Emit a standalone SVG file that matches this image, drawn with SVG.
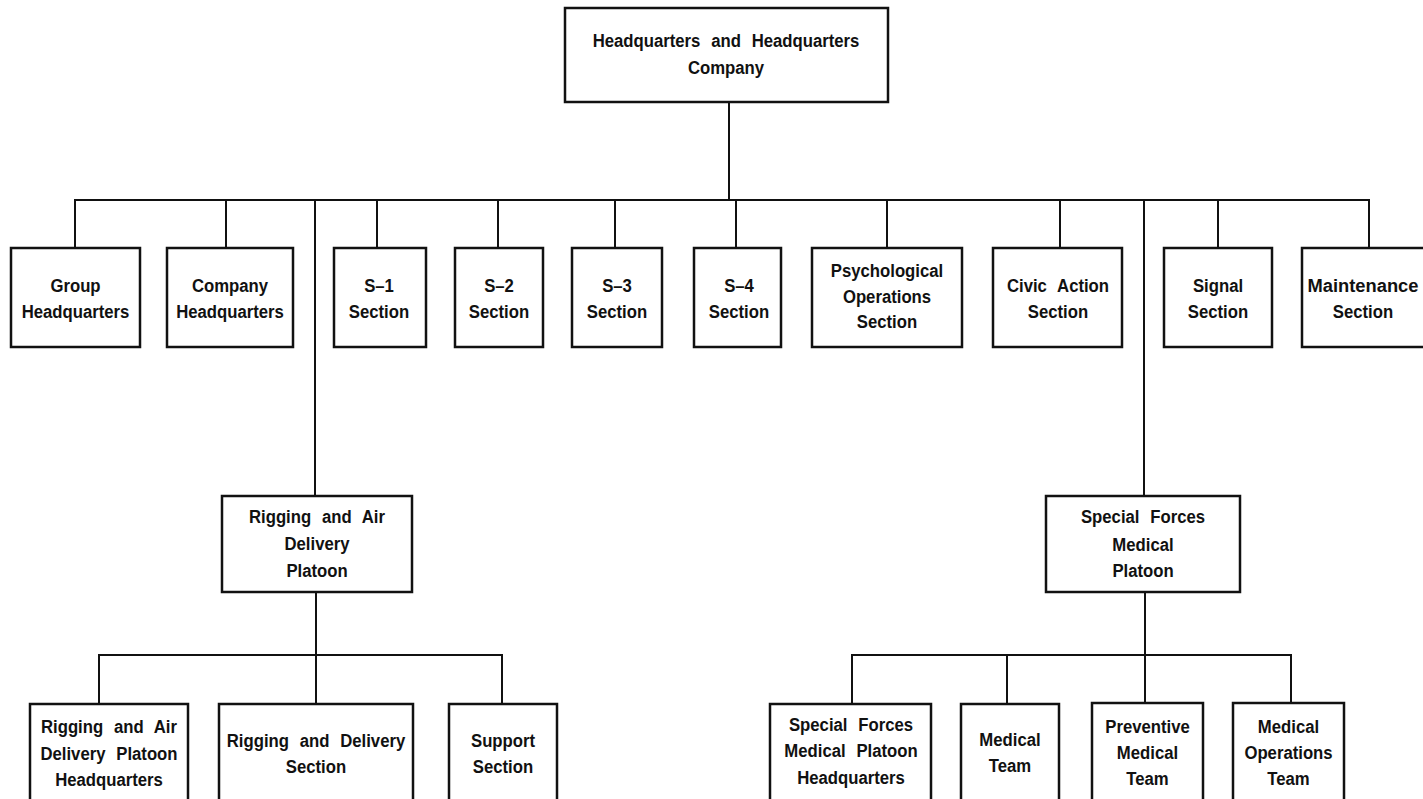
<svg xmlns="http://www.w3.org/2000/svg" width="1423" height="799" viewBox="0 0 1423 799">
  <style>
    .box { fill: #ffffff; stroke: #111111; stroke-width: 2.5; }
    .wire { fill: none; stroke: #111111; stroke-width: 2; stroke-linecap: square; }
    .lbl { font-family: "Liberation Sans", Arial, sans-serif; font-weight: bold; font-size: 19px; fill: #111111; text-anchor: middle; word-spacing: 7px; }
  </style>
  <rect width="1423" height="799" fill="#ffffff"/>

  <!-- connectors -->
  <g id="connectors" class="wire">
    <path d="M729 102 V200"/>
    <path d="M75 200 H1369"/>
    <path d="M75 200 V248 M226 200 V248 M377 200 V248 M498 200 V248 M615 200 V248 M736 200 V248 M887 200 V248 M1060 200 V248 M1218 200 V248 M1369 200 V248"/>
    <path d="M315 200 V496"/>
    <path d="M1144 200 V496"/>
    <path d="M316 592 V655 M99 655 H502 M99 655 V704 M316 655 V704 M502 655 V704"/>
    <path d="M1145 592 V655 M852 655 H1291 M852 655 V703 M1007 655 V703 M1145 655 V703 M1291 655 V703"/>
  </g>

  <!-- top -->
  <g id="hhc">
    <rect class="box" x="565" y="8" width="323" height="94"/>
    <text class="lbl" transform="matrix(0.88 0 0 1 726 0)"><tspan x="0" y="47">Headquarters and Headquarters</tspan><tspan x="0" y="74">Company</tspan></text>
  </g>

  <!-- first row -->
  <g id="group-hq">
    <rect class="box" x="11" y="248" width="129" height="99"/>
    <text class="lbl" transform="matrix(0.88 0 0 1 75.5 0)"><tspan x="0" y="292">Group</tspan><tspan x="0" y="318">Headquarters</tspan></text>
  </g>
  <g id="company-hq">
    <rect class="box" x="167" y="248" width="126" height="99"/>
    <text class="lbl" transform="matrix(0.88 0 0 1 230 0)"><tspan x="0" y="292">Company</tspan><tspan x="0" y="318">Headquarters</tspan></text>
  </g>
  <g id="s1">
    <rect class="box" x="334" y="248" width="92" height="99"/>
    <text class="lbl" transform="matrix(0.88 0 0 1 379 0)"><tspan x="0" y="292">S–1</tspan><tspan x="0" y="318">Section</tspan></text>
  </g>
  <g id="s2">
    <rect class="box" x="455" y="248" width="88" height="99"/>
    <text class="lbl" transform="matrix(0.88 0 0 1 499 0)"><tspan x="0" y="292">S–2</tspan><tspan x="0" y="318">Section</tspan></text>
  </g>
  <g id="s3">
    <rect class="box" x="572" y="248" width="90" height="99"/>
    <text class="lbl" transform="matrix(0.88 0 0 1 617 0)"><tspan x="0" y="292">S–3</tspan><tspan x="0" y="318">Section</tspan></text>
  </g>
  <g id="s4">
    <rect class="box" x="694" y="248" width="87" height="99"/>
    <text class="lbl" transform="matrix(0.88 0 0 1 739 0)"><tspan x="0" y="292">S–4</tspan><tspan x="0" y="318">Section</tspan></text>
  </g>
  <g id="psyops">
    <rect class="box" x="812" y="248" width="150" height="99"/>
    <text class="lbl" transform="matrix(0.88 0 0 1 887 0)"><tspan x="0" y="277">Psychological</tspan><tspan x="0" y="303">Operations</tspan><tspan x="0" y="328">Section</tspan></text>
  </g>
  <g id="civic">
    <rect class="box" x="993" y="248" width="129" height="99"/>
    <text class="lbl" transform="matrix(0.88 0 0 1 1058 0)"><tspan x="0" y="292">Civic Action</tspan><tspan x="0" y="318">Section</tspan></text>
  </g>
  <g id="signal">
    <rect class="box" x="1164" y="248" width="108" height="99"/>
    <text class="lbl" transform="matrix(0.88 0 0 1 1218 0)"><tspan x="0" y="292">Signal</tspan><tspan x="0" y="318">Section</tspan></text>
  </g>
  <g id="maintenance">
    <rect class="box" x="1302" y="248" width="130" height="99"/>
    <text class="lbl" transform="matrix(0.88 0 0 1 1363 0)"><tspan x="0" y="292" textLength="126" lengthAdjust="spacingAndGlyphs">Maintenance</tspan><tspan x="0" y="318">Section</tspan></text>
  </g>

  <!-- platoons -->
  <g id="rigging-platoon">
    <rect class="box" x="222" y="496" width="190" height="96"/>
    <text class="lbl" transform="matrix(0.88 0 0 1 317 0)"><tspan x="0" y="523">Rigging and Air</tspan><tspan x="0" y="550">Delivery</tspan><tspan x="0" y="577">Platoon</tspan></text>
  </g>
  <g id="medical-platoon">
    <rect class="box" x="1046" y="496" width="194" height="96"/>
    <text class="lbl" transform="matrix(0.88 0 0 1 1143 0)"><tspan x="0" y="523">Special Forces</tspan><tspan x="0" y="551">Medical</tspan><tspan x="0" y="577">Platoon</tspan></text>
  </g>

  <!-- rigging platoon elements -->
  <g id="rigging-hq">
    <rect class="box" x="30" y="704" width="158" height="110"/>
    <text class="lbl" transform="matrix(0.88 0 0 1 109 0)"><tspan x="0" y="733">Rigging and Air</tspan><tspan x="0" y="760">Delivery Platoon</tspan><tspan x="0" y="786">Headquarters</tspan></text>
  </g>
  <g id="rigging-delivery">
    <rect class="box" x="219" y="704" width="194" height="110"/>
    <text class="lbl" transform="matrix(0.88 0 0 1 316 0)"><tspan x="0" y="747">Rigging and Delivery</tspan><tspan x="0" y="773">Section</tspan></text>
  </g>
  <g id="support">
    <rect class="box" x="449" y="704" width="108" height="110"/>
    <text class="lbl" transform="matrix(0.88 0 0 1 503 0)"><tspan x="0" y="747">Support</tspan><tspan x="0" y="773">Section</tspan></text>
  </g>

  <!-- medical platoon elements -->
  <g id="medical-hq">
    <rect class="box" x="770" y="704" width="161" height="110"/>
    <text class="lbl" transform="matrix(0.88 0 0 1 851 0)"><tspan x="0" y="731">Special Forces</tspan><tspan x="0" y="757">Medical Platoon</tspan><tspan x="0" y="784">Headquarters</tspan></text>
  </g>
  <g id="medical-team">
    <rect class="box" x="961" y="704" width="98" height="110"/>
    <text class="lbl" transform="matrix(0.88 0 0 1 1010 0)"><tspan x="0" y="746">Medical</tspan><tspan x="0" y="772">Team</tspan></text>
  </g>
  <g id="preventive">
    <rect class="box" x="1092" y="703" width="111" height="110"/>
    <text class="lbl" transform="matrix(0.88 0 0 1 1147.5 0)"><tspan x="0" y="733">Preventive</tspan><tspan x="0" y="759">Medical</tspan><tspan x="0" y="785">Team</tspan></text>
  </g>
  <g id="med-ops">
    <rect class="box" x="1233" y="703" width="111" height="110"/>
    <text class="lbl" transform="matrix(0.88 0 0 1 1288.5 0)"><tspan x="0" y="733">Medical</tspan><tspan x="0" y="759">Operations</tspan><tspan x="0" y="785">Team</tspan></text>
  </g>
</svg>
